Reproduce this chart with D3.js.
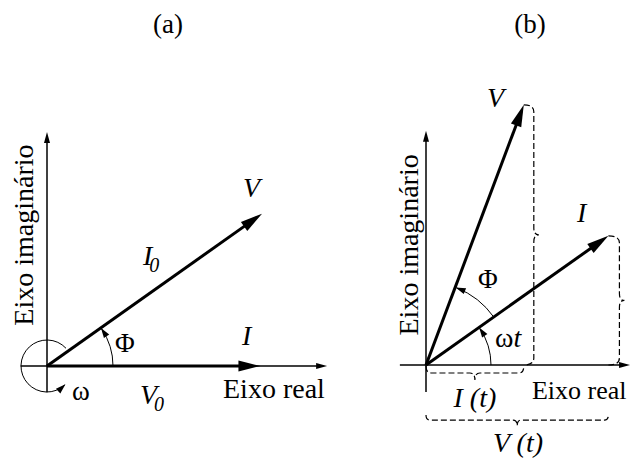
<!DOCTYPE html>
<html>
<head>
<meta charset="utf-8">
<script src="https://cdn.jsdelivr.net/npm/d3@7"></script>
<style>
  body { margin: 0; background: #fff; }
  svg text { font-family: 'Liberation Serif', 'Times New Roman', 'DejaVu Serif', serif; fill: #000; }
</style>
</head>
<body>
<svg id="chart" width="633" height="459"></svg>
<script>
// values (magnitude relative to V, angle in degrees)
const panelTitles = ["(a)", "(b)"];
const axisNames = ["Eixo real", "Eixo imaginário"];
const phasorsA = [{ name: "V", mag: 1.0, angle: 35.3 }, { name: "I", mag: 0.81, angle: 0 }];
const phasorsB = [{ name: "V", mag: 1.0, angle: 69.4 }, { name: "I", mag: 0.804, angle: 35.3 }];
const angleNamesA = ["Φ", "ω"];
const angleNamesB = ["Φ", "ωt"];
const projNamesB = ["I (t)", "V (t)"];

const FONT = "'Liberation Serif', 'Times New Roman', 'DejaVu Serif', serif";
const svg = d3.select("#chart");

// each panel: origin in px and px per unit
const panels = [
  { ox: 47, oy: 366, k: 263.5 },
  { ox: 426, oy: 365, k: 278 }
];
panels.forEach(p => {
  p.x = d3.scaleLinear().domain([0, 1]).range([p.ox, p.ox + p.k]);
  p.y = d3.scaleLinear().domain([0, 1]).range([p.oy, p.oy - p.k]);
  p.g = svg.append("g");
});

const rad = a => a * Math.PI / 180;
const tipOf = (p, v) => [p.x(v.mag * Math.cos(rad(v.angle))), p.y(v.mag * Math.sin(rad(v.angle)))];

function arrow(g, x1, y1, x2, y2, sw, hl, hw) {
  const L = Math.hypot(x2 - x1, y2 - y1), ux = (x2 - x1) / L, uy = (y2 - y1) / L;
  g.append("line")
    .attr("x1", x1).attr("y1", y1)
    .attr("x2", x2 - ux * hl * 0.7).attr("y2", y2 - uy * hl * 0.7)
    .attr("stroke", "#000").attr("stroke-width", sw);
  const bx = x2 - ux * hl, by = y2 - uy * hl;
  g.append("path")
    .attr("d", `M${x2},${y2}L${bx - uy * hw},${by + ux * hw}L${bx + uy * hw},${by - ux * hw}Z`)
    .attr("fill", "#000");
}

// arc around the origin, angles in math degrees, arrow at the end
function angleArc(g, p, r, a0, a1, ccw) {
  const path = d3.path();
  path.arc(p.x(0), p.y(0), r, -rad(a0), -rad(a1), ccw);
  g.append("path").attr("d", path.toString())
    .attr("fill", "none").attr("stroke", "#000").attr("stroke-width", 1);
  const ex = p.x(0) + r * Math.cos(rad(a1)), ey = p.y(0) - r * Math.sin(rad(a1));
  const s = ccw ? 1 : -1;
  const tx = -Math.sin(rad(a1)) * s, ty = -Math.cos(rad(a1)) * s;
  const hl = 9, hw = 3.2;
  const bx = ex - tx * hl, by = ey - ty * hl;
  g.append("path")
    .attr("d", `M${ex + tx},${ey + ty}L${bx - ty * hw},${by + tx * hw}L${bx + ty * hw},${by - tx * hw}Z`)
    .attr("fill", "#000");
}

function brace(g, p1, p2, d, tip, hook, side) {
  const L = Math.hypot(p2[0] - p1[0], p2[1] - p1[1]);
  const t = [(p2[0] - p1[0]) / L, (p2[1] - p1[1]) / L];
  const n = side > 0 ? [t[1], -t[0]] : [-t[1], t[0]];
  const m = [(p1[0] + p2[0]) / 2, (p1[1] + p2[1]) / 2];
  const P = (b, a, c) => `${b[0] + n[0] * a + t[0] * c},${b[1] + n[1] * a + t[1] * c}`;
  const dstr = `M${P(p1, 0, 0)}Q${P(p1, d, 0)} ${P(p1, d, hook)}L${P(m, d, -hook)}` +
    `Q${P(m, d, 0)} ${P(m, d + tip, 0)}Q${P(m, d, 0)} ${P(m, d, hook)}` +
    `L${P(p2, d, -hook)}Q${P(p2, d, 0)} ${P(p2, 0, 0)}`;
  g.append("path").attr("d", dstr)
    .attr("fill", "none").attr("stroke", "#000").attr("stroke-width", 1.2)
    .attr("stroke-dasharray", "6,3");
}

function axes(p, xmin, xmax, ymin, ymax) {
  arrow(p.g, p.x(xmin), p.y(0), p.x(xmax), p.y(0), 1.5, 11, 3);
  arrow(p.g, p.x(0), p.y(ymin), p.x(0), p.y(ymax), 1.5, 11, 3);
}

function label(p, ux, uy, parts, size, anchor) {
  const t = p.g.append("text").attr("x", p.x(ux)).attr("y", p.y(uy))
    .attr("text-anchor", anchor || "start")
    .style("font-family", FONT).style("font-size", size + "px");
  parts.forEach(q => {
    const s = t.append("tspan").text(q.s);
    if (q.it) s.style("font-style", "italic");
    if (q.sub) s.attr("dy", 7).attr("dx", -3).style("font-size", "20px");
  });
  return t;
}

function vLabel(p, ux, uy, txt, size) {
  p.g.append("text")
    .attr("transform", `translate(${p.x(ux)},${p.y(uy)}) rotate(-90)`)
    .style("font-family", FONT).style("font-size", size + "px")
    .attr("text-anchor", "middle").text(txt);
}

// ---------- panel (a) ----------
const A = panels[0];
axes(A, -0.1, 1.063, -0.1, 0.888);
angleArc(A.g, A, 26, 43, 313, true);
angleArc(A.g, A, 66, 0, phasorsA[0].angle - 1, true);
phasorsA.forEach(v => {
  const [tx, ty] = tipOf(A, v);
  arrow(A.g, A.x(0), A.y(0), tx, ty, 3, 22, 5.5);
});
label(A, 0.459, 1.264, [{ s: panelTitles[0] }], 27, "middle");
label(A, 0.744, 0.641, [{ s: phasorsA[0].name, it: true }], 28);
label(A, 0.740, 0.080, [{ s: phasorsA[1].name, it: true }], 28);
label(A, 0.364, 0.383, [{ s: "I", it: true }, { s: "0", it: true, sub: true }], 28);
label(A, 0.353, -0.144, [{ s: "V", it: true }, { s: "0", it: true, sub: true }], 28);
label(A, 0.258, 0.053, [{ s: angleNamesA[0] }], 27);
label(A, 0.095, -0.129, [{ s: angleNamesA[1] }], 27);
label(A, 0.668, -0.121, [{ s: axisNames[0] }], 28);
vLabel(A, -0.053, 0.497, axisNames[1], 28);

// ---------- panel (b) ----------
const B = panels[1];
const vB = tipOf(B, phasorsB[0]), iB = tipOf(B, phasorsB[1]);
brace(B.g, vB, [vB[0], B.y(0)], 10, 5, 7, 1);
brace(B.g, iB, [iB[0], B.y(0)], 11, 5, 7, 1);
brace(B.g, [B.x(0), B.y(0) + 1], [vB[0], B.y(0) + 1], 7, 7, 5, -1);
brace(B.g, [B.x(0), B.y(-0.18)], [iB[0], B.y(-0.18)], 5, 6, 4, -1);
axes(B, -0.094, 0.734, -0.097, 0.843);
angleArc(B.g, B, 65, 0, phasorsB[1].angle - 1, true);
angleArc(B.g, B, 83, phasorsB[1].angle, phasorsB[0].angle - 1, true);
phasorsB.forEach(v => {
  const [tx, ty] = tipOf(B, v);
  arrow(B.g, B.x(0), B.y(0), tx, ty, 3, 22, 5.5);
});
label(B, 0.374, 1.194, [{ s: panelTitles[1] }], 27, "middle");
label(B, 0.219, 0.928, [{ s: phasorsB[0].name, it: true }], 28);
label(B, 0.543, 0.514, [{ s: phasorsB[1].name, it: true }], 28);
label(B, 0.187, 0.277, [{ s: angleNamesB[0] }], 27);
label(B, 0.248, 0.065, [{ s: angleNamesB[1].slice(0, 1) }, { s: angleNamesB[1].slice(1), it: true }], 28);
label(B, 0.381, -0.122, [{ s: axisNames[0] }], 26);
vLabel(B, -0.029, 0.432, axisNames[1], 28);
label(B, 0.176, -0.151, [{ s: projNamesB[0], it: true }], 28, "middle");
label(B, 0.331, -0.313, [{ s: projNamesB[1], it: true }], 28, "middle");
</script>
</body>
</html>
